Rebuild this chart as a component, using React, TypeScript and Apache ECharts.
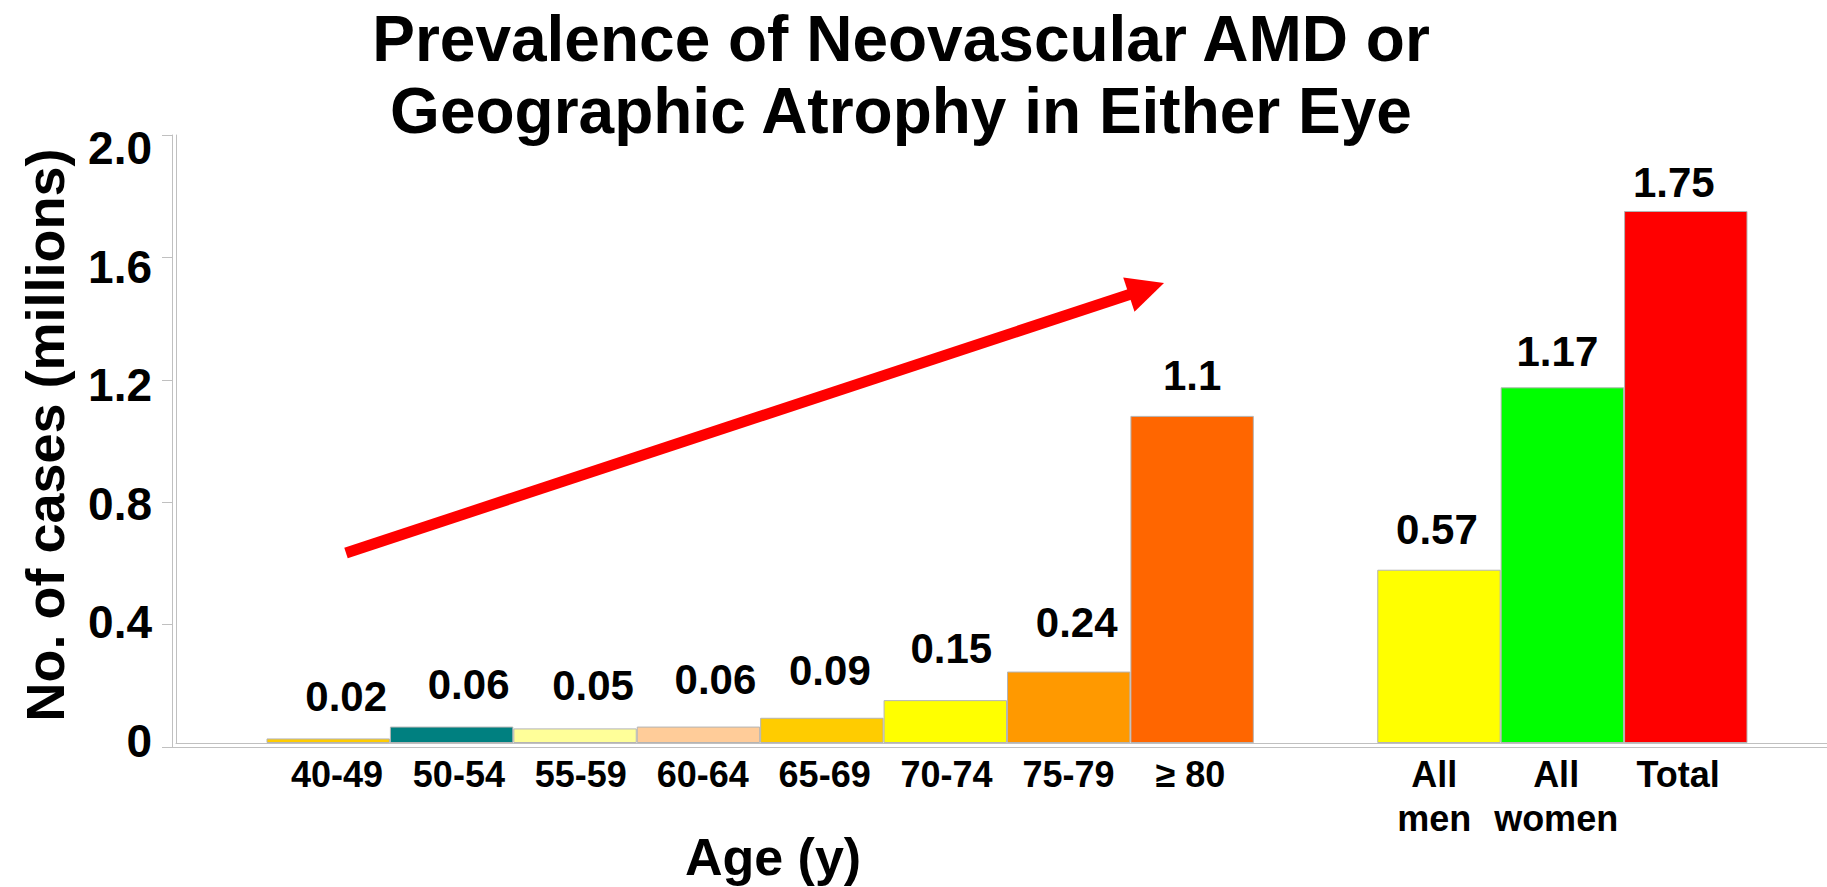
import React, { useEffect, useRef } from "react";
import * as echarts from "echarts";

const categories = ["40-49", "50-54", "55-59", "60-64", "65-69", "70-74", "75-79", "≥ 80", "", "All\nmen", "All\nwomen", "Total"];
const barValues = [0.015, 0.054, 0.048, 0.054, 0.083, 0.141, 0.235, 1.076, null, 0.57, 1.17, 1.75];
const valueLabels = ["0.02", "0.06", "0.05", "0.06", "0.09", "0.15", "0.24", "1.1", "", "0.57", "1.17", "1.75"];
const barColors = ["#FFCC00", "#008080", "#FFFF99", "#FFCC99", "#FFCC00", "#FFFF00", "#FF9900", "#FF6600", "#FFFFFF", "#FFFF00", "#00FF00", "#FF0000"];
const yTickLabels = ["0", "0.4", "0.8", "1.2", "1.6", "2.0"];
const titleLines = ["Prevalence of Neovascular AMD or", "Geographic Atrophy in Either Eye"];
const yAxisTitle = "No. of cases (millions)";
const xAxisTitle = "Age (y)";

// label placement styling (not data)
const labelGap = [21, 21, 22, 26, 26, 31, 28, 19, 0, 19, 15, 8];
const labelShiftX = [18, 17, 18, 17, 8, 6, 8, 0, 0, -2, -5, -12];

const FONT = "'Liberation Sans', Arial, Helvetica, sans-serif";
const AXIS_GRAY = "#c0c0c0";

function arrowGraphics() {
  const tail = [346, 553];
  const tip = [1164, 283];
  const headLen = 37;
  const headHalf = 18;
  const dx = tip[0] - tail[0];
  const dy = tip[1] - tail[1];
  const len = Math.sqrt(dx * dx + dy * dy);
  const ux = dx / len;
  const uy = dy / len;
  const nx = -uy;
  const ny = ux;
  const bx = tip[0] - ux * headLen;
  const by = tip[1] - uy * headLen;
  return [
    {
      type: "line",
      shape: { x1: tail[0], y1: tail[1], x2: bx + ux * 3, y2: by + uy * 3 },
      style: { stroke: "#FF0000", lineWidth: 11, lineCap: "butt" },
      z: 10,
    },
    {
      type: "polygon",
      shape: {
        points: [
          [tip[0], tip[1]],
          [bx + nx * headHalf, by + ny * headHalf],
          [bx - nx * headHalf, by - ny * headHalf],
        ],
      },
      style: { fill: "#FF0000" },
      z: 10,
    },
  ];
}

export default function App() {
  const ref = useRef<HTMLDivElement>(null);

  useEffect(() => {
    if (!ref.current) return;
    const chart = echarts.init(ref.current, null, { renderer: "svg" });

    const option: any = {
      animation: false,
      backgroundColor: "#ffffff",
      grid: [
        { left: 266.5, right: 79.5, top: 135, bottom: 144, containLabel: false }, // bars
        { left: 176, right: 0, top: 135, bottom: 144, containLabel: false }, // inner frame
        { left: 172, right: 0, top: 135, bottom: 140, containLabel: false }, // outer frame + ticks
        { left: 172, right: 0, top: 148, bottom: 146, containLabel: false }, // y tick labels
        { left: 276, right: 88, top: 135, bottom: 140, containLabel: false }, // category labels
      ],
      xAxis: [
        { gridIndex: 0, type: "category", data: categories, show: false },
        {
          gridIndex: 1, type: "value", min: 0, max: 1,
          axisLine: { show: true, lineStyle: { color: AXIS_GRAY, width: 1 } },
          axisTick: { show: false }, axisLabel: { show: false }, splitLine: { show: false },
        },
        {
          gridIndex: 2, type: "value", min: 0, max: 1,
          axisLine: { show: true, lineStyle: { color: AXIS_GRAY, width: 1 } },
          axisTick: { show: false }, axisLabel: { show: false }, splitLine: { show: false },
        },
        { gridIndex: 3, type: "value", min: 0, max: 1, show: false },
        {
          gridIndex: 4, type: "category", data: categories,
          axisLine: { show: false }, axisTick: { show: false }, splitLine: { show: false },
          axisLabel: {
            show: true, interval: 0, margin: 5,
            color: "#000", fontFamily: FONT, fontWeight: "bold", fontSize: 36, lineHeight: 44,
          },
        },
      ],
      yAxis: [
        { gridIndex: 0, type: "value", min: 0, max: 2, show: false },
        {
          gridIndex: 1, type: "value", min: 0, max: 1,
          axisLine: { show: true, lineStyle: { color: AXIS_GRAY, width: 1 } },
          axisTick: { show: false }, axisLabel: { show: false }, splitLine: { show: false },
        },
        {
          gridIndex: 2, type: "value", min: 0, max: 2, interval: 0.4,
          axisLine: { show: true, lineStyle: { color: AXIS_GRAY, width: 1 } },
          axisTick: { show: true, inside: false, length: 10, lineStyle: { color: AXIS_GRAY, width: 1 } },
          axisLabel: { show: false }, splitLine: { show: false },
        },
        {
          gridIndex: 3, type: "value", min: 0, max: 2, interval: 0.4,
          axisLine: { show: false }, axisTick: { show: false }, splitLine: { show: false },
          axisLabel: {
            show: true, margin: 20, color: "#000", fontFamily: FONT, fontWeight: "bold", fontSize: 46,
            formatter: (_v: number, i: number) => yTickLabels[i],
          },
        },
        { gridIndex: 4, type: "value", min: 0, max: 2, show: false },
      ],
      series: [
        {
          type: "bar",
          xAxisIndex: 0,
          yAxisIndex: 0,
          barCategoryGap: "0%",
          barGap: "0%",
          data: barValues.map((v, i) => ({
            value: v,
            itemStyle: { color: barColors[i], borderColor: "#b4b4b4", borderWidth: 1 },
            label: {
              show: v !== null,
              position: "top",
              distance: labelGap[i],
              offset: [labelShiftX[i], 0],
              formatter: () => valueLabels[i],
              color: "#000",
              fontFamily: FONT,
              fontWeight: "bold",
              fontSize: 42,
            },
          })),
        },
      ],
      graphic: [
        {
          type: "text", x: 901, y: 39,
          style: { text: titleLines[0], fill: "#000", font: `bold 64px ${FONT}`, align: "center", verticalAlign: "middle" },
        },
        {
          type: "text", x: 901, y: 111,
          style: { text: titleLines[1], fill: "#000", font: `bold 64px ${FONT}`, align: "center", verticalAlign: "middle" },
        },
        {
          type: "text", x: 45, y: 435, rotation: Math.PI / 2,
          style: { text: yAxisTitle, fill: "#000", font: `bold 54px ${FONT}`, align: "center", verticalAlign: "middle" },
        },
        {
          type: "text", x: 773, y: 857,
          style: { text: xAxisTitle, fill: "#000", font: `bold 52px ${FONT}`, align: "center", verticalAlign: "middle" },
        },
        ...arrowGraphics(),
      ],
    };

    chart.setOption(option);
    return () => chart.dispose();
  }, []);

  return (
    <div
      ref={ref}
      style={{ position: "fixed", left: 0, top: 0, width: 1827, height: 887, background: "#fff" }}
    />
  );
}
